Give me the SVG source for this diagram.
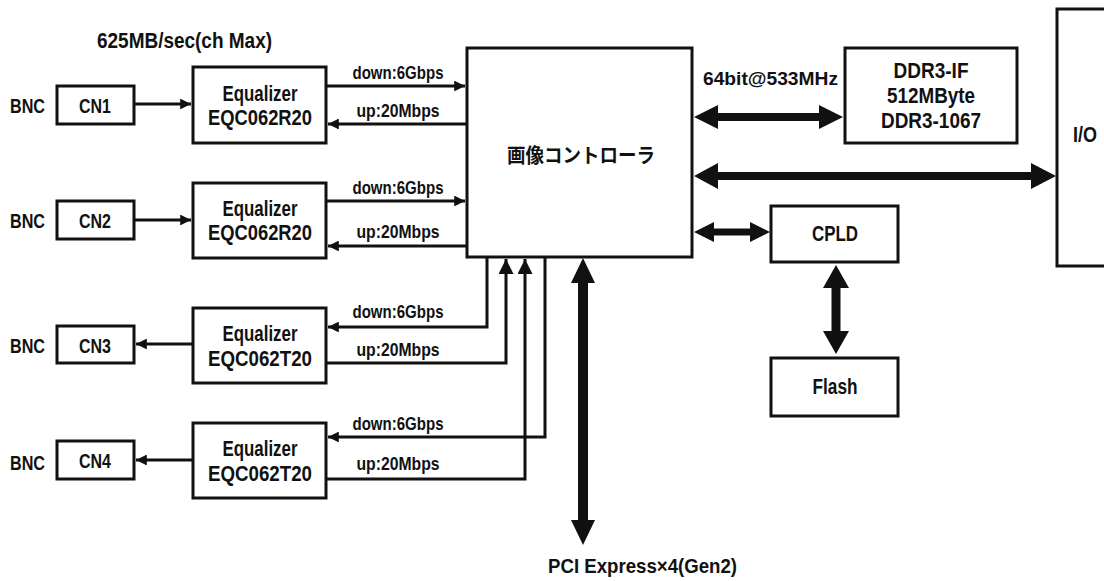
<svg xmlns="http://www.w3.org/2000/svg" width="1104" height="581" viewBox="0 0 1104 581">
<defs>
<style>
text{font-family:"Liberation Sans",Arial,sans-serif;font-weight:bold;fill:#111}
.box{fill:#fff;stroke:#111;stroke-width:3}
.t20{font-size:21px}
.t21{font-size:22px}
.t18{font-size:19px}
.mid{text-anchor:middle}
.jp{font-family:"Noto Sans CJK JP","Noto Sans",sans-serif;font-size:20px;font-weight:bold}
.ln{fill:none;stroke:#111;stroke-width:3}
.big{fill:#111}
</style>
<marker id="ah" viewBox="0 0 10 10" refX="10" refY="5" markerWidth="5" markerHeight="3.6" orient="auto" markerUnits="strokeWidth">
<path d="M0,0 L10,5 L0,10 z" fill="#111"/>
</marker>
<marker id="ahu" viewBox="0 0 10 10" refX="10" refY="5" markerWidth="5.5" markerHeight="5" orient="auto" markerUnits="strokeWidth">
<path d="M0,0 L10,5 L0,10 z" fill="#111"/>
</marker>
</defs>

<text class="t21" x="97" y="48" textLength="175" lengthAdjust="spacingAndGlyphs">625MB/sec(ch Max)</text>

<g id="cn1"><text class="t20" x="10" y="113" textLength="35" lengthAdjust="spacingAndGlyphs">BNC</text><rect class="box" x="57" y="86" width="77" height="38"/><text class="t20 mid" x="95" y="113" textLength="32" lengthAdjust="spacingAndGlyphs">CN1</text></g>
<g id="cn2"><text class="t20" x="10" y="228" textLength="35" lengthAdjust="spacingAndGlyphs">BNC</text><rect class="box" x="57" y="201" width="77" height="38"/><text class="t20 mid" x="95" y="228" textLength="32" lengthAdjust="spacingAndGlyphs">CN2</text></g>
<g id="cn3"><text class="t20" x="10" y="353" textLength="35" lengthAdjust="spacingAndGlyphs">BNC</text><rect class="box" x="57" y="326" width="77" height="37"/><text class="t20 mid" x="95" y="353" textLength="32" lengthAdjust="spacingAndGlyphs">CN3</text></g>
<g id="cn4"><text class="t20" x="10" y="470" textLength="35" lengthAdjust="spacingAndGlyphs">BNC</text><rect class="box" x="57" y="441" width="77" height="38"/><text class="t20 mid" x="95" y="468" textLength="32" lengthAdjust="spacingAndGlyphs">CN4</text></g>

<g id="eq1"><rect class="box" x="193" y="67" width="133" height="76"/><text class="t21 mid" x="260" y="101" textLength="75" lengthAdjust="spacingAndGlyphs">Equalizer</text><text class="t21 mid" x="260" y="125" textLength="104" lengthAdjust="spacingAndGlyphs">EQC062R20</text></g>
<g id="eq2"><rect class="box" x="193" y="183" width="133" height="75"/><text class="t21 mid" x="260" y="216" textLength="75" lengthAdjust="spacingAndGlyphs">Equalizer</text><text class="t21 mid" x="260" y="240" textLength="104" lengthAdjust="spacingAndGlyphs">EQC062R20</text></g>
<g id="eq3"><rect class="box" x="193" y="308" width="133" height="75"/><text class="t21 mid" x="260" y="341" textLength="75" lengthAdjust="spacingAndGlyphs">Equalizer</text><text class="t21 mid" x="260" y="366" textLength="104" lengthAdjust="spacingAndGlyphs">EQC062T20</text></g>
<g id="eq4"><rect class="box" x="193" y="423" width="133" height="75"/><text class="t21 mid" x="260" y="456" textLength="75" lengthAdjust="spacingAndGlyphs">Equalizer</text><text class="t21 mid" x="260" y="481" textLength="104" lengthAdjust="spacingAndGlyphs">EQC062T20</text></g>

<g id="controller"><rect class="box" x="467" y="48" width="225" height="209"/><text class="jp mid" x="581" y="163" textLength="148" lengthAdjust="spacingAndGlyphs">画像コントローラ</text></g>
<g id="ddr"><rect class="box" x="845" y="48" width="172" height="95"/><text class="t21 mid" x="931" y="78" textLength="75" lengthAdjust="spacingAndGlyphs">DDR3-IF</text><text class="t21 mid" x="931" y="103" textLength="88" lengthAdjust="spacingAndGlyphs">512MByte</text><text class="t21 mid" x="931" y="128" textLength="100" lengthAdjust="spacingAndGlyphs">DDR3-1067</text></g>
<g id="io"><rect class="box" x="1057" y="9" width="60" height="257"/><text class="t21" x="1073" y="142" textLength="24" lengthAdjust="spacingAndGlyphs">I/O</text></g>
<g id="cpld"><rect class="box" x="771" y="206" width="127" height="56"/><text class="t21 mid" x="835" y="241" textLength="46" lengthAdjust="spacingAndGlyphs">CPLD</text></g>
<g id="flash"><rect class="box" x="771" y="358" width="127" height="58"/><text class="t21 mid" x="835" y="394" textLength="45" lengthAdjust="spacingAndGlyphs">Flash</text></g>

<g id="connectors">
<path class="ln" d="M135,104 H191" marker-end="url(#ah)"/>
<path class="ln" d="M135,220 H191" marker-end="url(#ah)"/>
<path class="ln" d="M192,344 H136" marker-end="url(#ah)"/>
<path class="ln" d="M192,460 H136" marker-end="url(#ah)"/>

<path class="ln" d="M327,86 H465" marker-end="url(#ah)"/>
<path class="ln" d="M466,124 H328" marker-end="url(#ah)"/>
<path class="ln" d="M327,201 H465" marker-end="url(#ah)"/>
<path class="ln" d="M466,246 H328" marker-end="url(#ah)"/>
<path class="ln" d="M487,258 V327 H328" marker-end="url(#ah)"/>
<path class="ln" d="M327,363 H506 V259" marker-end="url(#ahu)"/>
<path class="ln" d="M327,479 H525 V259" marker-end="url(#ahu)"/>
<path class="ln" d="M545,258 V437 H328" marker-end="url(#ah)"/>

<text class="t18 mid" x="398" y="79" textLength="91" lengthAdjust="spacingAndGlyphs">down:6Gbps</text>
<text class="t18 mid" x="398" y="117" textLength="83" lengthAdjust="spacingAndGlyphs">up:20Mbps</text>
<text class="t18 mid" x="398" y="194" textLength="91" lengthAdjust="spacingAndGlyphs">down:6Gbps</text>
<text class="t18 mid" x="398" y="238" textLength="83" lengthAdjust="spacingAndGlyphs">up:20Mbps</text>
<text class="t18 mid" x="398" y="318" textLength="91" lengthAdjust="spacingAndGlyphs">down:6Gbps</text>
<text class="t18 mid" x="398" y="356" textLength="83" lengthAdjust="spacingAndGlyphs">up:20Mbps</text>
<text class="t18 mid" x="398" y="430" textLength="91" lengthAdjust="spacingAndGlyphs">down:6Gbps</text>
<text class="t18 mid" x="398" y="470" textLength="83" lengthAdjust="spacingAndGlyphs">up:20Mbps</text>

<polygon class="big" points="694,117 718,105 718,113 819,113 819,105 843,117 819,129 819,121 718,121 718,129"/>
<polygon class="big" points="694,176 718,163 718,172 1031,172 1031,163 1056,176 1031,189 1031,180 718,180 718,189"/>
<polygon class="big" points="694,232 714,222 714,228.5 750,228.5 750,222 770,232 750,242 750,235.5 714,235.5 714,242"/>
<polygon class="big" points="836,265 849,288 840.5,288 840.5,331 849,331 836,354 823,331 831.5,331 831.5,288 823,288"/>
<polygon class="big" points="583,258 595,283 588,283 588,520 595,520 583,545 571,520 578,520 578,283 571,283"/>

<text class="t18" x="703" y="85" textLength="135" lengthAdjust="spacingAndGlyphs">64bit@533MHz</text>
<text class="t20" x="548" y="573" textLength="189" lengthAdjust="spacingAndGlyphs">PCI Express×4(Gen2)</text>
</g>
</svg>
